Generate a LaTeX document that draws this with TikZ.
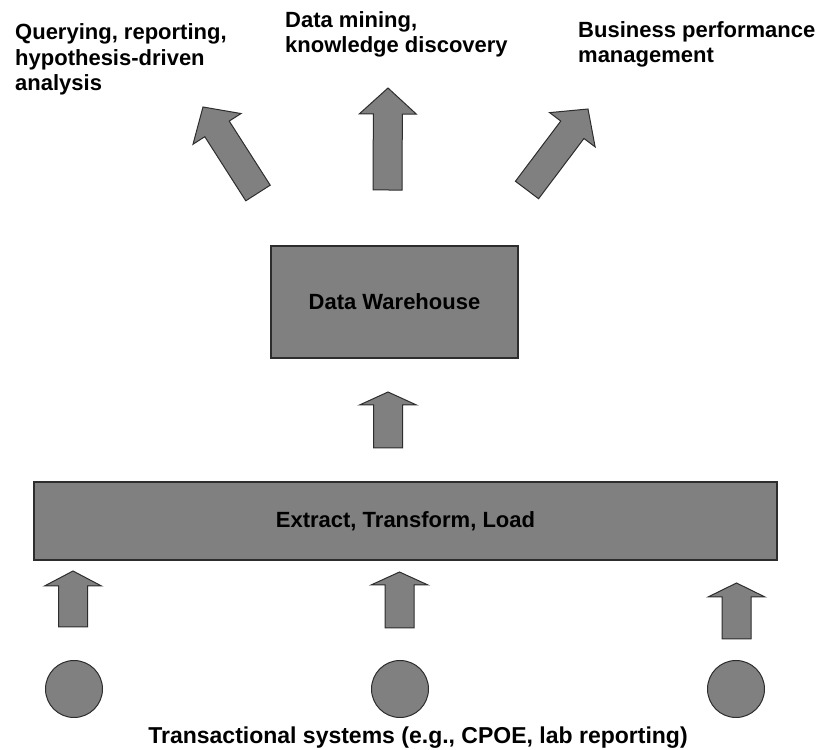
\documentclass[tikz,border=0pt]{standalone}
\usepackage{fontspec}
\setmainfont{Liberation Sans}
\usetikzlibrary{calc}
\definecolor{blockgray}{RGB}{128,128,128}
\definecolor{edgegray}{RGB}{45,45,45}
\tikzset{
  txt/.style={font=\bfseries\fontsize{22}{25.5}\selectfont},
  box/.style={txt, draw=edgegray, line width=1.3pt, fill=blockgray, inner sep=0pt},
  fatarrow/.style={draw=edgegray, line width=1pt, fill=blockgray, line join=miter},
  source/.style={circle, draw=edgegray, line width=1pt, fill=blockgray, minimum size=57pt, inner sep=0pt},
  heading/.style={txt, align=left, inner sep=0pt},
}
\newcommand{\shafthalf}{14.5pt}
\newcommand{\headhalf}{28.5pt}
% block arrow from tail coordinate #1 to tip coordinate #2, head length #3
\newcommand{\blockarrow}[3]{%
  \coordinate (#1-neck) at ($(#2)!#3!(#1)$);
  \draw[fatarrow]
    ($(#1)!\shafthalf!90:(#2)$) -- ($(#1-neck)!\shafthalf!90:(#2)$)
    -- ($(#1-neck)!\headhalf!90:(#2)$) -- (#2)
    -- ($(#1-neck)!\headhalf!-90:(#2)$) -- ($(#1-neck)!\shafthalf!-90:(#2)$)
    -- ($(#1)!\shafthalf!-90:(#2)$) -- cycle;}
\begin{document}
\begin{tikzpicture}[x=1pt, y=1pt]
  \useasboundingbox (0,0) rectangle (820,750);

  % uses of the warehouse (anchored at the baseline of the last line)
  \node[heading, anchor=base west] (query) at (15,659) {Querying, reporting,\\hypothesis-driven\\analysis};
  \node[heading, anchor=base west] (mining) at (285,697) {Data mining,\\knowledge discovery};
  \node[heading, anchor=base west] (perf) at (578,687) {Business performance\\management};

  % warehouse and ETL layer
  \node[box, minimum width=247pt, minimum height=112pt] (dw) at (394.5,448) {Data Warehouse};
  \node[box, minimum width=743pt, minimum height=78pt] (etl) at (405.5,229) {Extract, Transform, Load};

  % source systems
  \node[source] (src1) at (74,61) {};
  \node[source] (src2) at (400,61) {};
  \node[source] (src3) at (736,61) {};
  \node[txt, font=\bfseries\fontsize{23}{26}\selectfont, anchor=base, inner sep=0pt] (srclabel) at (418,6)
    {Transactional systems (e.g., CPOE, lab reporting)};

  % arrow end points
  \coordinate (upl) at (258,557);   \coordinate (upl-tip) at (203,643);
  \coordinate (upm) at (387.5,560); \coordinate (upm-tip) at (388,662);
  \coordinate (upr) at (527,560);   \coordinate (upr-tip) at (588,641);
  \coordinate (load) at (388,302);  \coordinate (load-tip) at (388,358);
  \coordinate (in1) at (73,123);    \coordinate (in1-tip) at (73,179);
  \coordinate (in2) at (399.5,122); \coordinate (in2-tip) at (399.5,178);
  \coordinate (in3) at (736.5,111); \coordinate (in3-tip) at (736.5,167);

  \blockarrow{upl}{upl-tip}{26pt}
  \blockarrow{upm}{upm-tip}{26pt}
  \blockarrow{upr}{upr-tip}{26pt}
  \blockarrow{load}{load-tip}{13pt}
  \blockarrow{in1}{in1-tip}{15pt}
  \blockarrow{in2}{in2-tip}{13pt}
  \blockarrow{in3}{in3-tip}{14pt}
\end{tikzpicture}
\end{document}
